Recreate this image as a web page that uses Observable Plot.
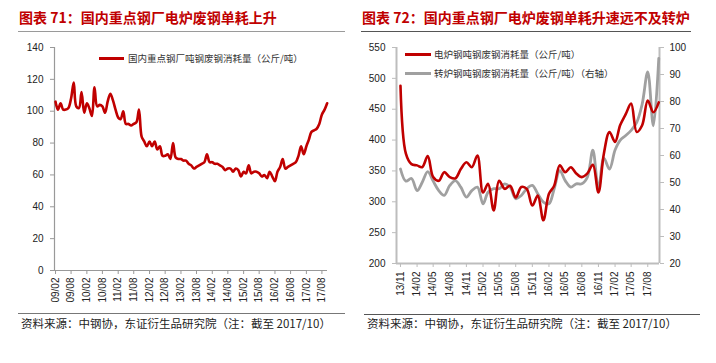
<!DOCTYPE html>
<html><head><meta charset="utf-8">
<script src="https://cdn.jsdelivr.net/npm/d3@7"></script>
<script src="https://cdn.jsdelivr.net/npm/@observablehq/plot@0.6"></script>
<style>
body{margin:0;background:#fff;width:716px;height:363px;overflow:hidden;position:relative;font-family:"Noto Sans CJK SC",sans-serif}
.title{position:absolute;top:7px;font-size:14px;font-weight:bold;color:#c00000;white-space:nowrap;line-height:20px}
.hr{position:absolute;height:0}
.cap{position:absolute;top:315px;font-size:11.5px;color:#222;white-space:nowrap;line-height:16px}
.chart{position:absolute;top:35px}
.leg{position:absolute;font-size:9.5px;color:#333;white-space:nowrap;line-height:12px}
.legline{position:absolute;height:3px}
</style></head><body>
<div class="title" style="left:19px">图表 71：国内重点钢厂电炉废钢单耗上升</div>
<div class="hr" style="left:18px;width:327px;top:31px;border-top:1.5px solid #9a9a9a"></div>
<div class="title" style="left:362px">图表 72：国内重点钢厂电炉废钢单耗升速远不及转炉</div>
<div class="hr" style="left:361px;width:330px;top:31px;border-top:1.5px solid #555"></div>
<div id="left" class="chart" style="left:0"></div>
<div id="right" class="chart" style="left:358px"></div>
<div class="legline" style="left:99px;width:25px;top:57px;background:#c00000"></div>
<div class="leg" style="left:128px;top:52px">国内重点钢厂吨钢废钢消耗量（公斤/吨）</div>
<div class="legline" style="left:405px;width:26px;top:53px;background:#c00000"></div>
<div class="leg" style="left:434px;top:48px">电炉钢吨钢废钢消耗量（公斤/吨）</div>
<div class="legline" style="left:405px;width:26px;top:72px;background:#a0a0a0"></div>
<div class="leg" style="left:434px;top:67px">转炉钢吨钢废钢消耗量（公斤/吨）（右轴）</div>
<div class="hr" style="left:18px;width:327px;top:313px;border-top:1.5px solid #777"></div>
<div class="cap" style="left:21px">资料来源：中钢协，东证衍生品研究院（注：截至 2017/10）</div>
<div class="hr" style="left:364px;width:336px;top:314px;border-top:1.5px solid #555"></div>
<div class="cap" style="left:367px">资料来源：中钢协，东证衍生品研究院（注：截至 2017/10）</div>
<script>
// ---- Left chart data: 国内重点钢厂吨钢废钢消耗量 (kg/t), monthly from 2009/02 ----
const leftStart = [2009, 1]; // year, month index (Feb)
const leftValues = [
106,101,105,101,101,102,108,118,103,102,112,99,105,102,97,115,103,104,103,99,
106,111,107,101,96,95,100,92,92,91,92,93,101,84,81,78,81,78,81,76,
78,72,72,73,70,80,71,70,70,69,69,67,66,64,65,66,67,68,73,68,
68,67,67,66,65,63,64,64,62,64,63,59,62,61,66,61,62,62,61,59,
60,58,62,59,56,62,65,70,64,65,66,67,68,72,78,73,78,82,87,88,
89,92,98,101,105];
const leftYTicks = [0,20,40,60,80,100,120,140];
const leftTickStep = 6; // months between x labels (09/02 ... 17/08)
const leftTickCount = 18;

// ---- Right chart data, monthly from 2013/11 ----
const rightStart = [2013, 10];
const eafValues = [
488,378,361,359,356,374,340,334,348,340,338,353,364,356,375,315,329,286,334,321,
326,307,324,321,294,310,270,313,326,359,348,356,346,340,346,360,315,378,413,397,
424,442,459,413,424,464,445,461];
const bofValues = [
55,50.5,51.5,47,50,54,50.5,47,45.2,48.9,50.7,48.3,44.6,47,48.3,42.1,46.4,47.7,47.7,49.5,
48.3,44,45.2,47.7,48.9,45.8,42.7,42.1,47.7,54.4,50.7,48.3,49.5,49.5,52,62,47.7,59,55,62,
65.6,67.4,69.3,72.3,79,91,71,96];
const rightYTicks = [200,250,300,350,400,450,500,550];
const right2Ticks = [20,30,40,50,60,70,80,90,100];
const rightTickStep = 3; // 13/11 ... 17/08
const rightTickCount = 16;

const month = (s, i) => new Date(Date.UTC(s[0], s[1] + i, 1));
const fmt = d3.utcFormat("%y/%m");
const baseStyle = {fontFamily: "'Liberation Sans', Arial, sans-serif", fontSize: "10px", color: "#222", background: "transparent", overflow: "visible"};

// Left
const leftData = leftValues.map((v, i) => ({date: month(leftStart, i), value: v}));
const leftTicks = d3.range(leftTickCount).map(k => month(leftStart, k * leftTickStep));
const lx0 = new Date(Date.UTC(2009, 0, 20)), lx1 = new Date(Date.UTC(2017, 9, 5));
const leftPlot = Plot.plot({
  width: 345, height: 270, marginTop: 12, marginBottom: 35, marginLeft: 54, marginRight: 18,
  style: baseStyle,
  x: {type: "utc", domain: [lx0, lx1]},
  y: {domain: [0, 140]},
  marks: [
    Plot.ruleX([lx0], {stroke: "#999", strokeWidth: 1.2}),
    Plot.ruleY([0], {stroke: "#999", strokeWidth: 1.2}),
    Plot.axisY({ticks: leftYTicks, tickSize: 4, tickPadding: 7, stroke: "#999", fill: "#222", label: null}),
    Plot.axisX({ticks: leftTicks, tickFormat: fmt, tickRotate: -90, tickSize: 4, tickPadding: 3, stroke: "#999", fill: "#222", label: null}),
    Plot.line(leftData, {x: "date", y: "value", stroke: "#c00000", strokeWidth: 2.6, curve: "catmull-rom"})
  ]
});
document.getElementById("left").appendChild(leftPlot);

// Right
const r0 = 200, r1 = 550, s0 = 20, s1 = 100;
const toLeft = v => r0 + (v - s0) * (r1 - r0) / (s1 - s0);
const fromLeft = y => s0 + (y - r0) * (s1 - s0) / (r1 - r0);
const eafData = eafValues.map((v, i) => ({date: month(rightStart, i), value: v}));
const bofData = bofValues.map((v, i) => ({date: month(rightStart, i), value: toLeft(v)}));
const rightTicks = d3.range(rightTickCount).map(k => month(rightStart, k * rightTickStep));
const rx0 = new Date(Date.UTC(2013, 9, 10)), rx1 = new Date(Date.UTC(2017, 9, 5));
const rightPlot = Plot.plot({
  width: 340, height: 263, marginTop: 12, marginBottom: 35, marginLeft: 38, marginRight: 39,
  style: baseStyle,
  x: {type: "utc", domain: [rx0, rx1]},
  y: {domain: [r0, r1]},
  marks: [
    Plot.ruleX([rx0, rx1], {stroke: "#bdbdbd", strokeWidth: 2}),
    Plot.ruleY([r0], {stroke: "#bdbdbd", strokeWidth: 2}),
    Plot.axisY({ticks: rightYTicks, tickSize: 4, tickPadding: 7, stroke: "#bdbdbd", fill: "#222", label: null}),
    Plot.axisY({anchor: "right", ticks: right2Ticks.map(toLeft), tickFormat: d => Math.round(fromLeft(d)), tickSize: 4, tickPadding: 6, stroke: "#bdbdbd", fill: "#222", label: null}),
    Plot.axisX({ticks: rightTicks, tickFormat: fmt, tickRotate: -90, tickSize: 4, tickPadding: 4, stroke: "#bdbdbd", fill: "#222", label: null}),
    Plot.line(bofData, {x: "date", y: "value", stroke: "#a0a0a0", strokeWidth: 2.8, curve: "catmull-rom"}),
    Plot.line(eafData, {x: "date", y: "value", stroke: "#c00000", strokeWidth: 2.6, curve: "catmull-rom"})
  ]
});
document.getElementById("right").appendChild(rightPlot);
</script>
</body></html>
